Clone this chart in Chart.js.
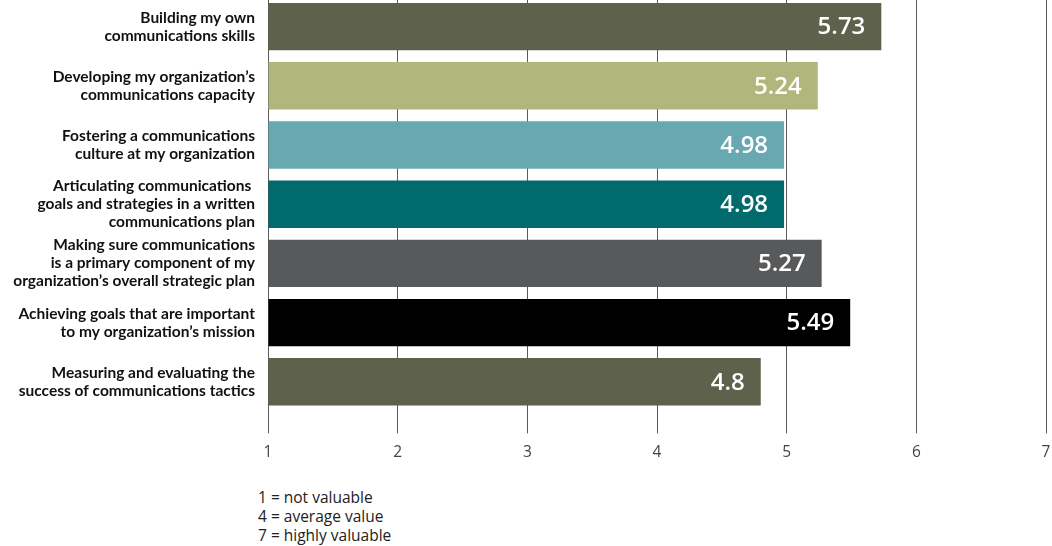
<!DOCTYPE html>
<html>
<head>
<meta charset="utf-8">
<script src="https://cdn.jsdelivr.net/npm/chart.js@4.4.1/dist/chart.umd.min.js"></script>
<style>
    html, body { margin: 0; padding: 0; background: #fff; }
    body { width: 1052px; height: 546px; position: relative; overflow: hidden; }
    #chart-box { position: absolute; left: 0; top: -3px; width: 1052px; height: 475px; }
    #scale-note {
        position: absolute; left: 258px; top: 488px;
        font: 15.5px "Open Sans", sans-serif; line-height: 19px; color: #222;
    }
</style>
</head>
<body>
<div id="chart-box"><canvas id="value-chart"></canvas></div>
<div id="scale-note">
    <div>1 = not valuable</div>
    <div>4 = average value</div>
    <div>7 = highly valuable</div>
</div>
<script>
// Data
const categories = [
    ['Building my own', 'communications skills'],
    ['Developing my organization\u2019s', 'communications capacity'],
    ['Fostering a communications', 'culture at my organization'],
    ['Articulating communications ', 'goals and strategies in a written', 'communications plan'],
    ['Making sure communications', 'is a primary component of my', 'organization\u2019s overall strategic plan'],
    ['Achieving goals that are important', 'to my organization\u2019s mission'],
    ['Measuring and evaluating the', 'success of communications tactics']
];
const scores = [5.73, 5.24, 4.98, 4.98, 5.27, 5.49, 4.8];
const barColors = ['#5e614b', '#b1b67c', '#68a8b0', '#006a6d', '#58595b', '#000000', '#5e614b'];
const xTicks = [1, 2, 3, 4, 5, 6, 7];


// Value labels inside bar ends
const valueLabels = {
    id: 'valueLabels',
    afterDatasetsDraw(chart) {
        const ctx = chart.ctx;
        const meta = chart.getDatasetMeta(0);
        ctx.save();
        ctx.font = '600 24px "Open Sans", sans-serif';
        ctx.fillStyle = '#fff';
        ctx.textAlign = 'right';
        ctx.textBaseline = 'middle';
        meta.data.forEach((bar, i) => {
            ctx.fillText(String(scores[i]), bar.x - 16, bar.y + 1);
        });
        ctx.restore();
    }
};


// Chart
const ctx = document.getElementById('value-chart');
new Chart(ctx, {
    type: 'bar',
    data: {
        labels: categories,
        datasets: [{
            data: scores,
            base: 1,
            backgroundColor: barColors,
            borderWidth: 0,
            barPercentage: 0.8,
            categoryPercentage: 1
        }]
    },
    options: {
        indexAxis: 'y',
        responsive: true,
        maintainAspectRatio: false,
        animation: false,
        layout: { padding: { top: 0, right: 6, bottom: 0, left: 0 } },
        plugins: {
            legend: { display: false },
            tooltip: { enabled: false }
        },
        scales: {
            x: {
                type: 'linear',
                min: 1,
                max: 7,
                afterBuildTicks: scale => {
                    scale.ticks = xTicks.map(v => ({ value: v }));
                },
                afterFit: scale => {
                    scale.paddingLeft = 0;
                    scale.paddingRight = 0;
                },
                grid: {
                    color: '#5a5a5a',
                    lineWidth: 1,
                    drawTicks: true,
                    tickLength: 22,
                    tickColor: '#5a5a5a'
                },
                border: { display: false },
                ticks: {
                    color: '#444',
                    padding: 10,
                    font: { family: '"Open Sans", sans-serif', size: 15.5 }
                }
            },
            y: {
                afterFit: scale => {
                    scale.width = 268;
                    scale.paddingTop = 0;
                    scale.paddingBottom = 0;
                },
                grid: { display: false, drawTicks: false },
                border: { display: false },
                ticks: {
                    autoSkip: false,
                    color: '#111',
                    padding: 13,
                    font: { family: 'Lato, "Open Sans", sans-serif', size: 15.5, weight: 'bold', lineHeight: 1.16 }
                }
            }
        }
    },
    plugins: [valueLabels]
});
</script>
</body>
</html>
